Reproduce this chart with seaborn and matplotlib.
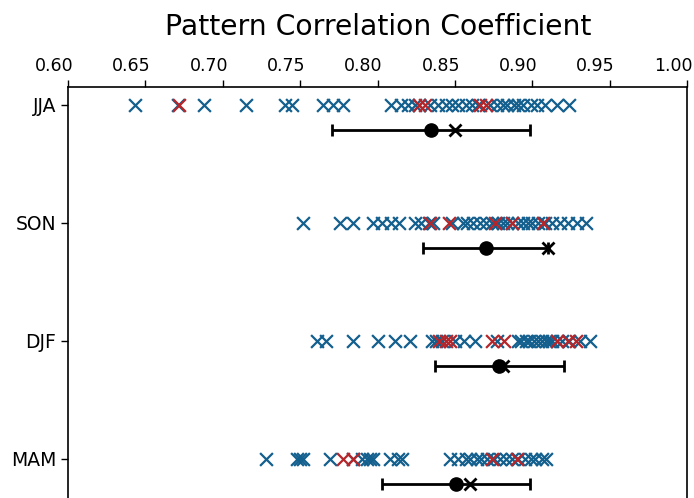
import matplotlib
matplotlib.use("Agg")
import matplotlib.pyplot as plt
import matplotlib.transforms as mtransforms
import numpy as np
import pandas as pd
import seaborn as sns

# Seasons, top to bottom
seasons = ["JJA", "SON", "DJF", "MAM"]

# Pattern correlation of individual members (blue / red groups)
jja_blue = [0.643, 0.671, 0.688, 0.715, 0.740, 0.745, 0.765, 0.771, 0.778,
            0.809, 0.815, 0.820, 0.824, 0.827, 0.834, 0.839, 0.844, 0.848,
            0.852, 0.857, 0.861, 0.865, 0.873, 0.877, 0.881, 0.884, 0.888,
            0.891, 0.894, 0.899, 0.903, 0.908, 0.916, 0.924]
jja_red = [0.672, 0.827, 0.831, 0.866, 0.870]

son_blue = [0.752, 0.776, 0.784, 0.797, 0.803, 0.809, 0.814, 0.824, 0.828,
            0.833, 0.836, 0.848, 0.855, 0.858, 0.862, 0.866, 0.870, 0.874,
            0.878, 0.881, 0.884, 0.887, 0.891, 0.894, 0.897, 0.900, 0.904,
            0.908, 0.913, 0.918, 0.923, 0.929, 0.935]
son_red = [0.834, 0.846, 0.876, 0.887, 0.907]

djf_blue = [0.761, 0.767, 0.784, 0.800, 0.811, 0.821, 0.835, 0.838, 0.842,
            0.850, 0.856, 0.863, 0.877, 0.891, 0.893, 0.896, 0.898, 0.901,
            0.904, 0.906, 0.909, 0.911, 0.913, 0.916, 0.919, 0.924, 0.931,
            0.937]
djf_red = [0.840, 0.844, 0.847, 0.874, 0.882, 0.916, 0.923, 0.928]

mam_blue = [0.728, 0.748, 0.750, 0.752, 0.769, 0.784, 0.790, 0.793, 0.795,
            0.797, 0.808, 0.813, 0.816, 0.847, 0.852, 0.857, 0.860, 0.864,
            0.867, 0.871, 0.875, 0.879, 0.883, 0.887, 0.891, 0.895, 0.899,
            0.902, 0.906, 0.909]
mam_red = [0.778, 0.784, 0.874, 0.890]

# Summary statistics per season: mean, standard deviation, reference value
season_mean = [0.8345, 0.8699, 0.8787, 0.8507]
season_std = [0.0640, 0.0404, 0.0415, 0.0479]
season_ref = [0.8500, 0.9100, 0.8810, 0.8597]

xticks = [0.60, 0.65, 0.70, 0.75, 0.80, 0.85, 0.90, 0.95, 1.00]

BLUE = "#135f8e"
RED = "#b5262b"

groups = {
    "JJA": (jja_blue, jja_red),
    "SON": (son_blue, son_red),
    "DJF": (djf_blue, djf_red),
    "MAM": (mam_blue, mam_red),
}
rows = []
for i, s in enumerate(seasons):
    b, r = groups[s]
    rows += [{"pcc": v, "pos": i, "group": "blue"} for v in b]
    rows += [{"pcc": v, "pos": i, "group": "red"} for v in r]
df = pd.DataFrame(rows)

sns.set_theme(style="ticks")
plt.rcParams["font.family"] = ["DejaVu Sans"]

fig = plt.figure(figsize=(6.94, 4.98), dpi=100)
ax = fig.add_axes([68 / 694, 1 - 518 / 498, 619 / 694, 431 / 498])

sns.scatterplot(data=df[df.group == "blue"], x="pcc", y="pos", marker="x",
                color=BLUE, s=85, linewidth=1.6, ax=ax, zorder=2, legend=False)
sns.scatterplot(data=df[df.group == "red"], x="pcc", y="pos", marker="x",
                color=RED, s=85, linewidth=1.6, ax=ax, zorder=3, legend=False)

offset = 0.21
ypos = np.arange(len(seasons)) + offset
ax.errorbar(season_mean, ypos, xerr=season_std, fmt="o", color="black",
            markersize=9.5, elinewidth=2, capsize=4, capthick=2, zorder=5)
ax.plot(season_ref, ypos, linestyle="none", marker="x", color="black",
        markersize=9, markeredgewidth=2, zorder=6)

ax.set_xlim(0.60, 1.00)
ax.set_ylim(3.5, -0.15)
ax.set_xticks(xticks)
ax.set_xticklabels([f"{t:.2f}" for t in xticks])
ax.set_yticks(range(len(seasons)))
ax.set_yticklabels(seasons)
ax.set_xlabel("")
ax.set_ylabel("")
ax.xaxis.tick_top()
ax.tick_params(axis="x", top=True, bottom=False, direction="out",
               length=5, width=1, labelsize=12.5, colors="black", pad=4)
ax.tick_params(axis="y", left=True, right=False, direction="out",
               length=5, width=1, labelsize=13.5, colors="black")
for sp in ax.spines.values():
    sp.set_visible(True)
    sp.set_color("black")
    sp.set_linewidth(1.2)

# shift x tick labels slightly left
shift = mtransforms.ScaledTranslation(-14 / 100, 0, fig.dpi_scale_trans)
for lab in ax.get_xticklabels():
    lab.set_transform(lab.get_transform() + shift)

fig.text(0.545, 1 - 27 / 498, "Pattern Correlation Coefficient",
         ha="center", va="center", fontsize=20.3, color="black")

fig.savefig("out.png", dpi=100)
